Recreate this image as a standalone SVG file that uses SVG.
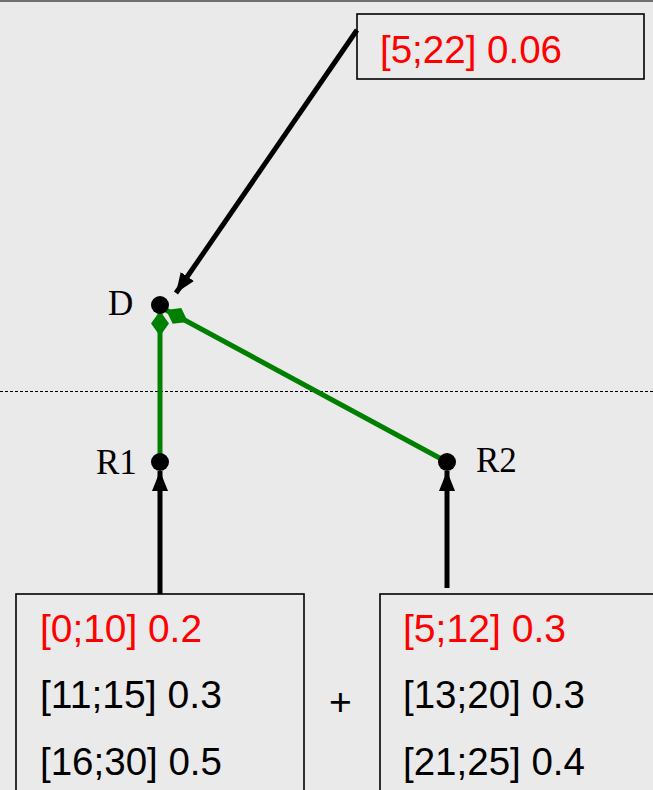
<svg xmlns="http://www.w3.org/2000/svg" width="653" height="790" viewBox="0 0 653 790">
<style>
.box{fill:none;stroke:#000;stroke-width:1.6}
.t{font-family:"Liberation Sans",Arial,sans-serif;font-size:39px}
.red{fill:#ff0000}
.blk{fill:#000}
.lbl{font-family:"Liberation Serif","Times New Roman",serif;font-size:35px;fill:#000}
.arrow{stroke:#000;stroke-width:5;fill:none;marker-end:url(#ah)}
.green{stroke:#008000;stroke-width:5;fill:none;marker-end:url(#dm)}
.dot{fill:#000}
</style>
<defs>
<marker id="ah" viewBox="0 0 20 16" markerWidth="20" markerHeight="16" refX="20" refY="8" orient="auto" markerUnits="userSpaceOnUse">
<path d="M0,0 L20,8 L0,16 Z" fill="#000"/>
</marker>
<marker id="dm" viewBox="0 0 25 18" markerWidth="25" markerHeight="18" refX="25" refY="9" orient="auto" markerUnits="userSpaceOnUse">
<path d="M25,9 L12.5,0 L0,9 L12.5,18 Z" fill="#008000"/>
</marker>
</defs>
<rect x="0" y="0" width="653" height="790" fill="#eaeaea"/>
<line x1="0" y1="1" x2="653" y2="1" stroke="#707070" stroke-width="2"/>
<line x1="0" y1="391.5" x2="653" y2="391.5" stroke="#000" stroke-width="1" stroke-dasharray="3,2"/>
<g id="connectors">
<line class="arrow" x1="357" y1="30" x2="176" y2="293"/>
<line class="arrow" x1="160" y1="594" x2="160" y2="471"/>
<line class="arrow" x1="447" y1="588" x2="447" y2="471"/>
<line class="green" x1="160" y1="462" x2="160" y2="311"/>
<line class="green" x1="447" y1="462" x2="166" y2="310"/>
</g>
<g id="node-top">
<rect class="box" x="357" y="14" width="287" height="65" stroke-width="2"/>
<text class="t red" x="380" y="63" textLength="182" lengthAdjust="spacingAndGlyphs">[5;22] 0.06</text>
</g>
<g id="node-D">
<circle class="dot" cx="160" cy="305" r="9"/>
<text class="lbl" x="108" y="315">D</text>
</g>
<g id="node-R1">
<circle class="dot" cx="160" cy="462" r="9"/>
<text class="lbl" x="96" y="474">R1</text>
</g>
<g id="node-R2">
<circle class="dot" cx="447" cy="462" r="9"/>
<text class="lbl" x="476" y="472">R2</text>
</g>
<g id="node-left">
<rect class="box" x="16" y="594" width="288" height="210"/>
<text class="t red" x="40" y="642" textLength="162" lengthAdjust="spacingAndGlyphs">[0;10] 0.2</text>
<text class="t blk" x="40" y="708" textLength="182" lengthAdjust="spacingAndGlyphs">[11;15] 0.3</text>
<text class="t blk" x="40" y="775" textLength="182" lengthAdjust="spacingAndGlyphs">[16;30] 0.5</text>
</g>
<text class="t blk" x="329" y="715" font-size="42">+</text>
<g id="node-right">
<rect class="box" x="380" y="594" width="290" height="210"/>
<text class="t red" x="403" y="642" textLength="163" lengthAdjust="spacingAndGlyphs">[5;12] 0.3</text>
<text class="t blk" x="403" y="708" textLength="182" lengthAdjust="spacingAndGlyphs">[13;20] 0.3</text>
<text class="t blk" x="403" y="775" textLength="182" lengthAdjust="spacingAndGlyphs">[21;25] 0.4</text>
</g>
</svg>
